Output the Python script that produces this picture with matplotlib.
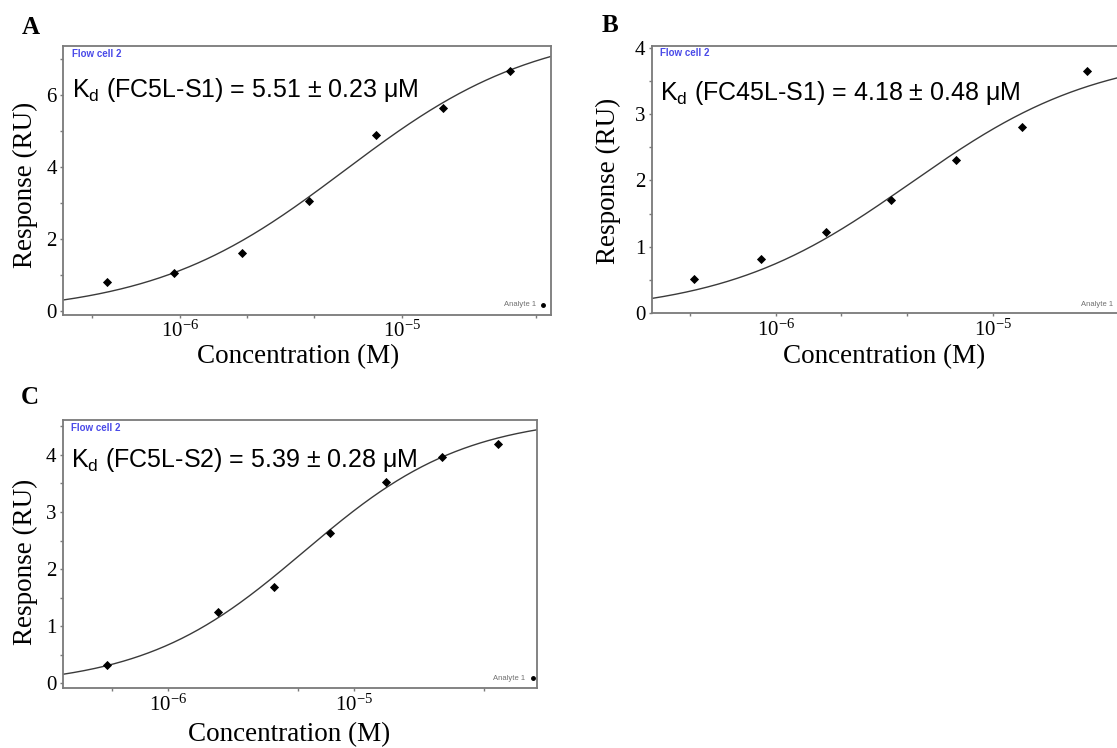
import numpy as np
import matplotlib
matplotlib.use("Agg")
import matplotlib.pyplot as plt

plt.rcParams['font.family'] = ['Liberation Serif', 'DejaVu Serif']
plt.rcParams['mathtext.fontset'] = 'custom'
plt.rcParams['mathtext.rm'] = 'Liberation Serif'
plt.rcParams['mathtext.it'] = 'Liberation Serif:italic'
plt.rcParams['mathtext.sf'] = 'Liberation Sans'

# ---- data (concentration in M, response in RU) ----
conc_A = [0.47e-6, 0.94e-6, 1.9e-6, 3.8e-6, 7.6e-6, 1.52e-5, 3.05e-5]
resp_A = [0.79, 1.05, 1.60, 3.05, 4.88, 5.63, 6.66]
conc_B = [0.42e-6, 0.85e-6, 1.69e-6, 3.38e-6, 6.77e-6, 1.355e-5, 2.71e-5]
resp_B = [0.51, 0.81, 1.22, 1.71, 2.31, 2.81, 3.66]
conc_C = [0.465e-6, 1.86e-6, 3.70e-6, 7.41e-6, 1.49e-5, 2.96e-5, 5.96e-5]
resp_C = [0.32, 1.25, 1.69, 2.63, 3.52, 3.97, 4.19]

# steady-state affinity fit parameters (Kd, Rmax, offset)
fit_A = (5.51e-6, 8.05, -0.12)
fit_B = (4.18e-6, 3.97, -0.02)
fit_C = (5.39e-6, 4.76, -0.07)

labels = ["A", "B", "C"]
kd_texts = ["$\\mathsf{K_d}$ (FC5L-S1) = 5.51 \u00b1 0.23 \u03bcM",
            "$\\mathsf{K_d}$ (FC45L-S1) = 4.18 \u00b1 0.48 \u03bcM",
            "$\\mathsf{K_d}$ (FC5L-S2) = 5.39 \u00b1 0.28 \u03bcM"]
y_major = [[0, 2, 4, 6], [0, 1, 2, 3, 4], [0, 1, 2, 3, 4]]
y_minor = [[1, 3, 5, 7], [0.5, 1.5, 2.5, 3.5], [0.5, 1.5, 2.5, 3.5, 4.5]]
x_major = [1e-6, 1e-5]
x_minor = [[4e-7, 2e-6, 4e-6, 4e-5], [4e-7, 2e-6, 4e-6], [5e-7, 5e-6, 5e-5]]
x_ticklabels = ["$10^{-6}$", "$10^{-5}$"]

W, H = 1117, 748
fig = plt.figure(figsize=(W / 100, H / 100), dpi=100)

def px_axes(l, r, t, b):
    return fig.add_axes([l / W, (H - b) / H, (r - l) / W, (b - t) / H])

axes_px = [(63.3, 551, 46, 315), (651.7, 1125, 46, 313.3), (62.7, 537.3, 420, 688.3)]
xlims = [(10 ** -6.525, 10 ** -4.331), (10 ** -6.572, 10 ** -4.394), (10 ** -6.569, 10 ** -4.013)]
ylims = [(-0.125, 7.37), (-0.005, 4.03), (-0.088, 4.61)]
xlab_pos = [(0.482, -0.155), (0.491, -0.163), (0.477, -0.174)]
ylab_pos = [(-0.0785, 0.483), (-0.092, 0.496), (-0.079, 0.472)]
letter_pos = [(30.5, 27), (610, 25), (30.3, 397)]
kd_pos = [(71.8, 96.7), (659.7, 100), (71.4, 467)]
flow_pos = [(71.8, 54.3), (660, 53.5), (71.4, 428.3)]
analyte_y = [305, 305, 678.3]
analyte_dot_px = [7.7, 5, 4.7]

data = [(conc_A, resp_A, fit_A), (conc_B, resp_B, fit_B), (conc_C, resp_C, fit_C)]
spine_col = '#7a7a7a'

for i, (conc, resp, fit) in enumerate(data):
    l, r, t, b = axes_px[i]
    ax = px_axes(l, r, t, b)
    ax.set_xscale('log')
    ax.set_xlim(*xlims[i])
    ax.set_ylim(*ylims[i])
    kd, rmax, off = fit
    xc = np.logspace(np.log10(xlims[i][0]), np.log10(xlims[i][1]), 400)
    yc = off + rmax * xc / (kd + xc)
    ax.plot(xc, yc, color='#3a3a3a', lw=1.0, zorder=2)
    ax.plot(conc, resp, linestyle='none', marker='D', ms=3.6,
            color='black', mec='black', mew=0.6, zorder=3)

    for s in ax.spines.values():
        s.set_color(spine_col)
        s.set_linewidth(1.3)

    ax.set_xticks(x_major)
    ax.set_xticklabels(x_ticklabels)
    ax.set_xticks(x_minor[i], minor=True)
    ax.xaxis.set_minor_formatter(matplotlib.ticker.NullFormatter())
    ax.set_yticks(y_major[i])
    ax.set_yticklabels([str(v) for v in y_major[i]])
    ax.set_yticks(y_minor[i], minor=True)
    ax.tick_params(which='both', direction='out', length=2.2, width=1.0,
                   color=spine_col, labelsize=15, labelcolor='black')
    ax.tick_params(axis='x', which='both', pad=2)
    ax.tick_params(axis='y', which='both', pad=2.5)

    ax.set_xlabel("Concentration (M)", fontsize=19.5)
    ax.xaxis.label.set_va('center')
    ax.xaxis.set_label_coords(*xlab_pos[i])
    ax.set_ylabel("Response (RU)", fontsize=19.5)
    ax.yaxis.label.set_va('center')
    ax.yaxis.set_label_coords(*ylab_pos[i])

    def to_ax(px, py):
        return (px - l) / (r - l), (b - py) / (b - t)

    # Flow cell label
    fx, fy = to_ax(*flow_pos[i])
    ax.text(fx, fy, "Flow cell 2", transform=ax.transAxes, fontsize=7,
            color='#4a4ae8', family='Liberation Sans', fontweight='bold',
            va='center', ha='left')
    # Kd annotation
    kx, ky = to_ax(*kd_pos[i])
    ax.text(kx, ky, kd_texts[i], transform=ax.transAxes, fontsize=18,
            family='Liberation Sans', va='baseline', ha='left', color='black')
    # Analyte legend
    dx = analyte_dot_px[i]
    _, ay = to_ax(0, analyte_y[i])
    ax.text(1 - (dx + 7) / (r - l), ay, "Analyte 1", transform=ax.transAxes,
            fontsize=5.5, family='Liberation Sans', color='#707070',
            va='center', ha='right')
    ax.plot([1 - dx / (r - l)], [ay], marker='o', ms=2.5, color='black',
            transform=ax.transAxes, clip_on=False, zorder=4)

    lx, ly = letter_pos[i]
    fig.text(lx / W, 1 - ly / H, labels[i], fontsize=18, fontweight='bold',
             ha='center', va='center', family='Liberation Serif')

fig.savefig("out.png", dpi=100)
